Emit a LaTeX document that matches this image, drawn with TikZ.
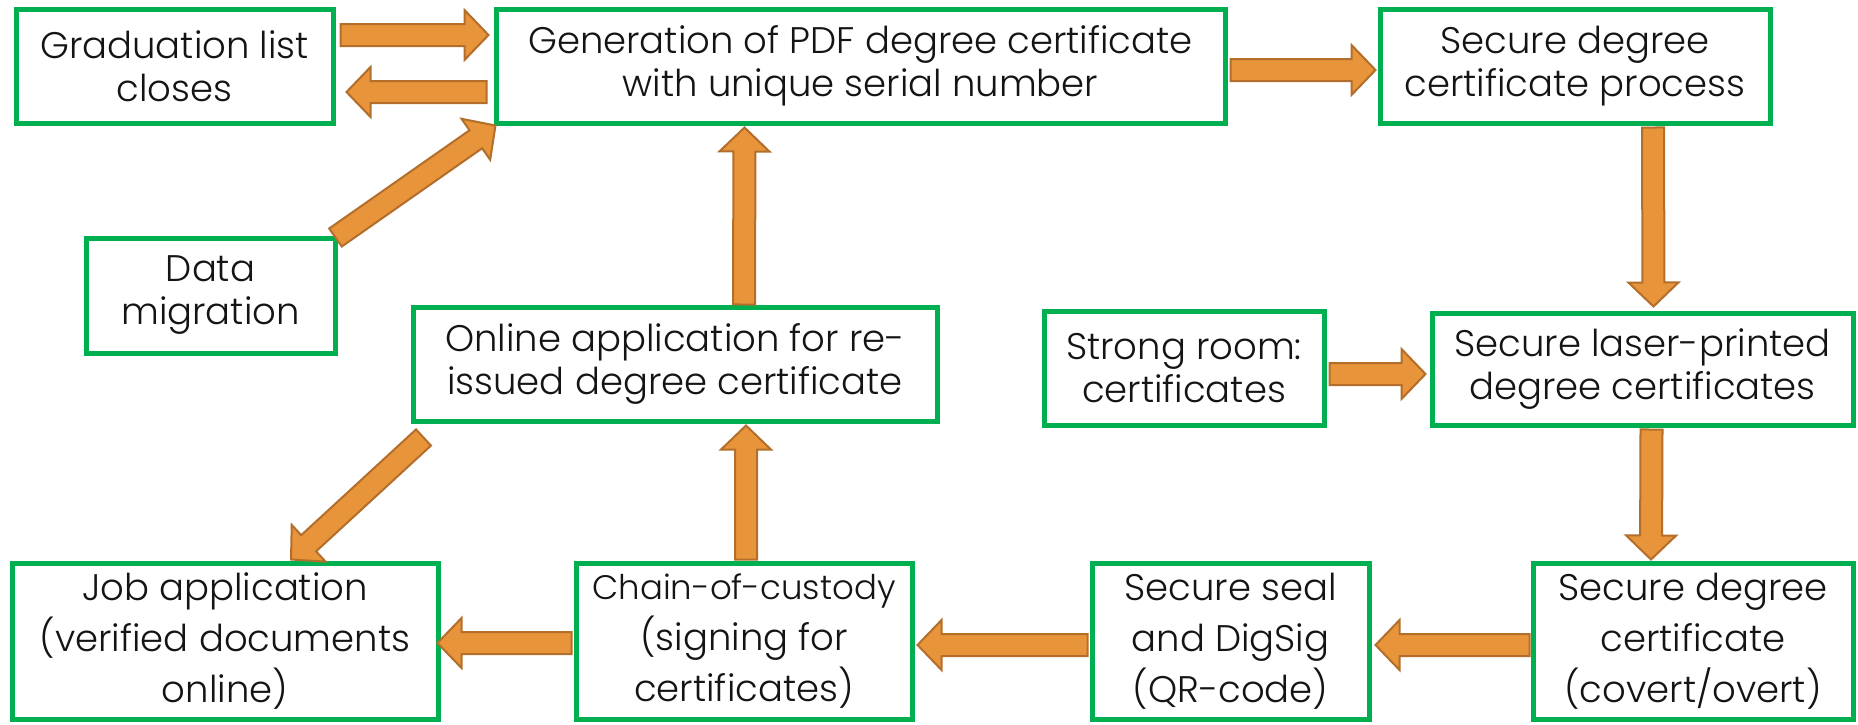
\documentclass[tikz,border=0pt]{standalone}
\usepackage{fontspec}
\setmainfont{Poppins}[UprightFont=*-Light]
\usetikzlibrary{calc}

\definecolor{boxgreen}{RGB}{0,176,80}
\definecolor{arrowfill}{RGB}{232,148,58}
\definecolor{arrowedge}{RGB}{178,110,42}
\definecolor{inkgray}{RGB}{20,20,20}

\tikzset{
  stage/.style={draw=boxgreen, line width=5pt, fill=white, align=center,
    inner sep=0pt, text=inkgray, font=\fontsize{37}{43}\selectfont},
  tallstage/.style={stage, font=\fontsize{37}{51}\selectfont},
  flowarrow/.style={draw=arrowedge, fill=arrowfill, line width=2pt, line join=miter},
}

% block arrow: shaft half-width, head half-width, head length
\newcommand{\shafthalf}{11pt}
\newcommand{\headhalf}{25pt}
\newcommand{\headlen}{24pt}
\newcommand{\flow}[2]{%
  \path ($(#2)!\headlen!(#1)$) coordinate (fb);
  \draw[flowarrow]
    ($(#1)!\shafthalf!90:(#2)$) --
    ($(fb)!\shafthalf!-90:(#1)$) --
    ($(fb)!\headhalf!-90:(#1)$) --
    (#2) --
    ($(fb)!\headhalf!90:(#1)$) --
    ($(fb)!\shafthalf!90:(#1)$) --
    ($(#1)!\shafthalf!-90:(#2)$) -- cycle;}

\begin{document}
\begin{tikzpicture}[x=1pt, y=-1pt]
\useasboundingbox (0,0) rectangle (1858,724);

% process stages
\node[stage, minimum width=317pt, minimum height=114pt] (grad)   at (174.5,66)  {Graduation list\\closes};
\node[stage, minimum width=729pt, minimum height=114pt] (gen)    at (860.5,66)  {Generation of PDF degree certificate\\with unique serial number};
\node[stage, minimum width=390pt, minimum height=114pt] (proc)   at (1575,66)   {Secure degree\\certificate process};
\node[stage, minimum width=249pt, minimum height=115pt] (data)   at (210.5,295.5) {Data\\migration};
\node[stage, minimum width=524pt, minimum height=114pt] (online) at (675,364)    {Online application for re-\\issued degree certificate};
\node[stage, minimum width=280pt, minimum height=114pt] (strong) at (1184,368)   {Strong room:\\certificates};
\node[stage, minimum width=421pt, minimum height=112pt] (laser)  at (1642.5,369) {Secure laser-printed\\degree certificates};
\node[tallstage, minimum width=426pt, minimum height=156pt] (job)    at (225,641)    {Job application\\(verified documents\\online)};
\node[tallstage, minimum width=336pt, minimum height=156pt] (chain)  at (744,641)    {{\fontsize{34}{51}\selectfont Chain-of-custody}\\(signing for\\certificates)};
\node[tallstage, minimum width=277pt, minimum height=156pt] (seal)   at (1230.5,641) {Secure seal\\and DigSig\\(QR-code)};
\node[tallstage, minimum width=320pt, minimum height=156pt] (covert) at (1693,641)   {Secure degree\\certificate\\(covert/overt)};

% arrow end points on the stage borders
\coordinate (a1s) at ($(grad.east)+(5,-31)$);
\coordinate (a1t) at ($(gen.west)+(-5,-31)$);
\coordinate (a2s) at ($(gen.west)+(-7,26)$);
\coordinate (a2t) at ($(grad.east)+(11,26)$);
\coordinate (a3s) at ($(data.north east)+(-2,2)$);
\coordinate (a3t) at ($(gen.south west)+(2,0)$);
\coordinate (a4s) at ($(gen.east)+(3,4)$);
\coordinate (a4t) at ($(proc.west)+(-2,4)$);
\coordinate (a5s) at ($(proc.south)+(78,2)$);
\coordinate (a5t) at ($(laser.north)+(11,-4)$);
\coordinate (a6s) at ($(strong.east)+(3,6)$);
\coordinate (a6t) at ($(laser.west)+(-4,5)$);
\coordinate (a7s) at ($(laser.south)+(9,2)$);
\coordinate (a7t) at ($(covert.north)+(-42,-1)$);
\coordinate (a8s) at ($(covert.west)+(-1,4)$);
\coordinate (a8t) at ($(seal.east)+(4,4)$);
\coordinate (a9s) at ($(seal.west)+(-2,4)$);
\coordinate (a9t) at ($(chain.east)+(3,4)$);
\coordinate (a10s) at ($(chain.west)+(-2,2)$);
\coordinate (a10t) at ($(job.east)+(-3,2)$);
\coordinate (a11s) at ($(chain.north)+(2,-1)$);
\coordinate (a11t) at ($(online.south)+(71,2)$);
\coordinate (a12s) at ($(online.north)+(69,0)$);
\coordinate (a12t) at ($(gen.south)+(-116,2)$);
\coordinate (a13s) at ($(online.south west)+(13,14)$);
\coordinate (a13t) at ($(job.north)+(66,-1)$);

% flow between stages
\flow{a1s}{a1t}
\flow{a2s}{a2t}
\flow{a3s}{a3t}
\flow{a4s}{a4t}
\flow{a5s}{a5t}
\flow{a6s}{a6t}
\flow{a7s}{a7t}
\flow{a8s}{a8t}
\flow{a9s}{a9t}
\flow{a10s}{a10t}
\flow{a11s}{a11t}
\flow{a12s}{a12t}
\flow{a13s}{a13t}
\end{tikzpicture}
\end{document}
